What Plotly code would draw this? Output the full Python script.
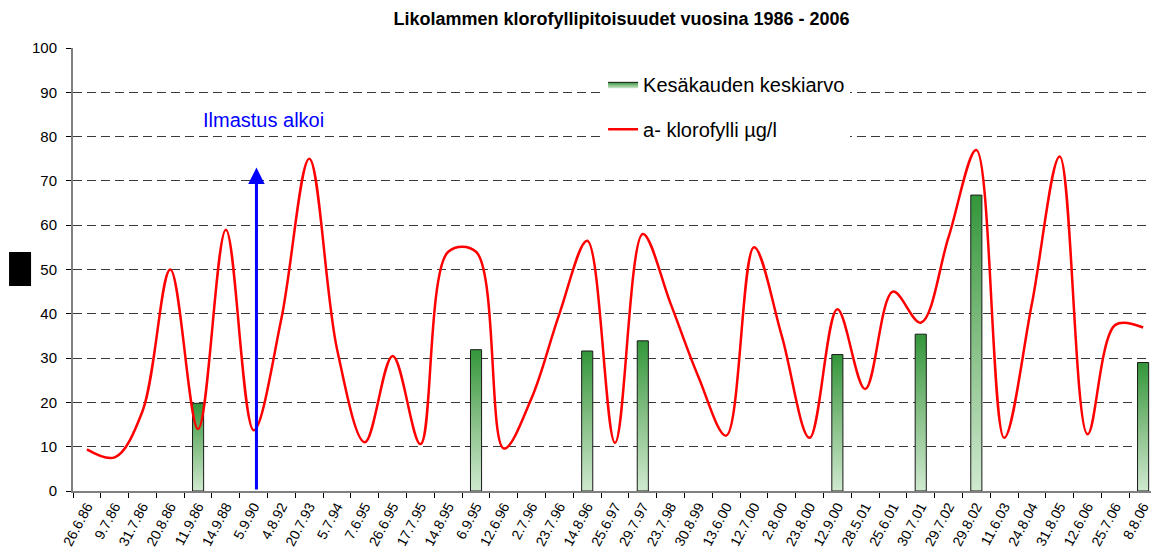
import plotly.graph_objects as go

# ---- data ----
dates = ["26.6.86", "9.7.86", "31.7.86", "20.8.86", "11.9.86", "14.9.88", "5.9.90",
         "4.8.92", "20.7.93", "5.7.94", "7.6.95", "26.6.95", "17.7.95", "14.8.95",
         "6.9.95", "12.6.96", "2.7.96", "23.7.96", "14.8.96", "25.6.97", "29.7.97",
         "23.7.98", "30.8.99", "13.6.00", "12.7.00", "2.8.00", "23.8.00", "12.9.00",
         "28.5.01", "25.6.01", "30.7.01", "29.7.02", "29.8.02", "11.6.03", "24.8.04",
         "31.8.05", "12.6.06", "25.7.06", "8.8.06"]
chlorophyll = [9.4, 7.6, 18, 50, 14, 59, 13.7, 39, 75, 32, 11, 30.5, 10.6, 54,
               54, 9.6, 21, 40, 56.5, 10.9, 58, 42.3, 25.8, 12.5, 55, 35, 12, 41,
               23, 45, 38, 57.3, 77, 12, 42.3, 75.5, 12.8, 37.5, 36.9]
summer_dates = ["11.9.86", "6.9.95", "14.8.96", "29.7.97", "12.9.00", "30.7.01", "29.8.02", "8.8.06"]
summer_mean = [19.8, 31.9, 31.6, 33.9, 30.8, 35.4, 66.8, 29.0]
y_ticks = list(range(0, 101, 10))

aeration_date = "5.9.90"
aeration_label = "Ilmastus alkoi"

FONT = "Liberation Sans, Arial, sans-serif"
idx = list(range(len(dates)))
half_w = 0.2

fig = go.Figure()

for k, (d, v) in enumerate(zip(summer_dates, summer_mean)):
    i = dates.index(d)
    fig.add_trace(go.Scatter(
        x=[i - half_w, i + half_w, i + half_w, i - half_w, i - half_w],
        y=[0, 0, v, v, 0],
        mode="lines", fill="toself",
        line=dict(color="#1a1a1a", width=1),
        fillgradient=dict(type="vertical",
                          colorscale=[[0, "#cfe9cf"], [0.5, "#86bf86"], [1, "#33963a"]]),
        name="Kesäkauden keskiarvo", legendgroup="bars",
        showlegend=(k == 0), hoverinfo="skip"))

fig.add_trace(go.Scatter(
    x=idx, y=chlorophyll, mode="lines",
    line=dict(color="#ff0000", width=2.5, shape="spline", smoothing=1),
    name="a- klorofylli µg/l", legendgroup="line"))

ax_i = dates.index(aeration_date) + 0.1
fig.add_annotation(x=ax_i, y=73, ax=ax_i, ay=0, xref="x", yref="y", axref="x", ayref="y",
                   text="", showarrow=True, arrowhead=2, arrowsize=1.1, arrowwidth=3,
                   arrowcolor="#0000ff", standoff=0)
fig.add_annotation(x=ax_i + 0.25, y=83.8, xref="x", yref="y", text=aeration_label,
                   showarrow=False, font=dict(family=FONT, size=20, color="#0000ff"))

# black box left of the y axis (y-axis title placeholder)
fig.add_shape(type="rect", xref="paper", yref="paper", x0=-0.059, x1=-0.0387,
              y0=0.4628, y1=0.5395, fillcolor="#000000", line=dict(width=0))

fig.update_layout(
    width=1151, height=544,
    margin=dict(l=65, r=2, t=40, b=61),
    paper_bgcolor="white", plot_bgcolor="white",
    font=dict(family=FONT, color="#000000"),
    title=dict(text="<b>Likolammen klorofyllipitoisuudet vuosina 1986 - 2006</b>",
               x=0.533, xanchor="center", y=0.981, yanchor="middle",
               font=dict(family=FONT, size=18, color="#000000")),
    showlegend=True,
    legend=dict(x=0.489, y=0.962, xanchor="left", yanchor="top",
                bgcolor="white", borderwidth=0, tracegroupgap=16,
                traceorder="grouped",
                font=dict(family=FONT, size=20, color="#000000")),
    xaxis=dict(range=[-0.5, len(dates) - 0.5], tickmode="array", tickvals=idx,
               ticktext=dates, tickangle=-62, ticks="", showgrid=False,
               showline=True, linecolor="#808080", linewidth=2, zeroline=False,
               tickfont=dict(family=FONT, size=14, color="#000000"),
               minor=dict(tickmode="linear", tick0=0.5, dtick=1, ticks="outside",
                          ticklen=5, tickcolor="#000000", tickwidth=1, showgrid=False)),
    yaxis=dict(range=[0, 100], tickmode="array", tickvals=y_ticks,
               ticks="outside", ticklen=5, tickcolor="#000000",
               showline=True, linecolor="#808080", linewidth=2, zeroline=False,
               showgrid=True, gridcolor="#3a3a3a", gridwidth=1, griddash="9px,5px",
               tickfont=dict(family=FONT, size=15, color="#000000"),
               ticklabelstandoff=6),
)

fig.write_html("out.html")
